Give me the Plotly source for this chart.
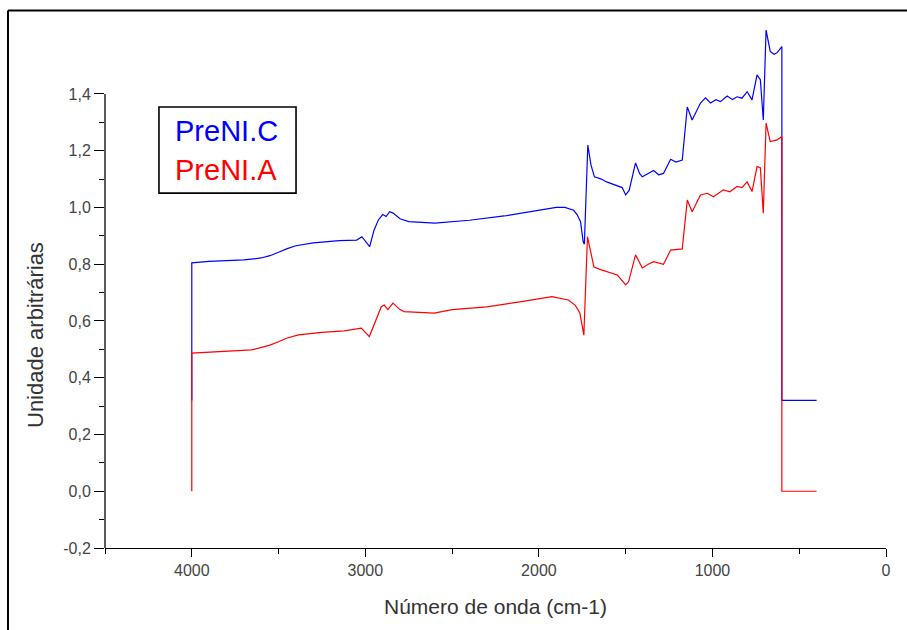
import plotly.graph_objects as go

# ---- data ----
wn_c = [4000, 4000, 3900, 3700, 3600, 3550, 3500, 3450, 3400, 3300, 3150, 3050, 3020, 2990, 2975,
        2950, 2925, 2900, 2880, 2860, 2840, 2800, 2750, 2600, 2400, 2200, 2000, 1900,
        1850, 1800, 1780, 1760, 1745, 1738, 1718, 1700, 1680, 1640, 1610, 1560, 1520,
        1500, 1480, 1443, 1420, 1404, 1370, 1339, 1310, 1282, 1241, 1210, 1174, 1145,
        1117, 1069, 1040, 1011, 980, 954, 915, 885, 858, 830, 800, 772, 743, 724, 707,
        691, 667, 645, 628, 600, 600, 400]
val_c = [0.32, 0.805, 0.81, 0.815, 0.822, 0.83, 0.842, 0.855, 0.865, 0.875, 0.883, 0.885, 0.897, 0.875, 0.862,
         0.92, 0.956, 0.975, 0.968, 0.985, 0.98, 0.96, 0.95, 0.945, 0.955, 0.97, 0.99, 1.0,
         1.0, 0.99, 0.975, 0.95, 0.88, 0.87, 1.22, 1.15, 1.108, 1.10, 1.09, 1.08, 1.07,
         1.044, 1.06, 1.157, 1.12, 1.108, 1.12, 1.13, 1.115, 1.12, 1.17, 1.16, 1.167, 1.354,
         1.308, 1.368, 1.386, 1.368, 1.38, 1.373, 1.393, 1.38, 1.39, 1.385, 1.408, 1.379, 1.467, 1.45, 1.308,
         1.625, 1.55, 1.54, 1.545, 1.567, 0.32, 0.32]

wn_a = [4000, 4000, 3655, 3598, 3550, 3500, 3450, 3385, 3250, 3121, 3023, 2977, 2908, 2891, 2870,
        2841, 2800, 2776, 2603, 2500, 2300, 2100, 1925, 1830, 1790, 1764, 1741, 1720,
        1683, 1640, 1605, 1548, 1500, 1483, 1443, 1404, 1370, 1339, 1282, 1241, 1174,
        1145, 1117, 1069, 1030, 994, 937, 900, 858, 830, 800, 772, 743, 724, 707, 691,
        667, 628, 600, 600, 400]
val_a = [0.0, 0.487, 0.498, 0.506, 0.515, 0.527, 0.54, 0.551, 0.56, 0.565, 0.575, 0.545, 0.65, 0.656, 0.64,
         0.663, 0.64, 0.633, 0.628, 0.64, 0.65, 0.668, 0.686, 0.674, 0.655, 0.628, 0.55, 0.897,
         0.79, 0.78, 0.774, 0.762, 0.727, 0.739, 0.833, 0.787, 0.80, 0.809, 0.80, 0.85, 0.854,
         1.026, 0.985, 1.044, 1.05, 1.038, 1.062, 1.055, 1.074, 1.07, 1.09, 1.056, 1.144, 1.14, 0.98, 1.297,
         1.232, 1.238, 1.25, 0.0, 0.0]

series_names = ["PreNI.C", "PreNI.A"]
series_colors = ["#0000ff", "#ff0000"]

y_ticks = [-0.2, 0.0, 0.2, 0.4, 0.6, 0.8, 1.0, 1.2, 1.4]
y_ticktext = ["-0,2", "0,0", "0,2", "0,4", "0,6", "0,8", "1,0", "1,2", "1,4"]
y_minor = [-0.1, 0.1, 0.3, 0.5, 0.7, 0.9, 1.1, 1.3]
x_ticks = [4000, 3000, 2000, 1000, 0]
x_minor = [4500, 3500, 2500, 1500, 500]

FONT = "Liberation Sans, Arial, sans-serif"

fig = go.Figure()
fig.add_trace(go.Scatter(x=wn_c, y=val_c, mode="lines", name=series_names[0],
                         line=dict(color=series_colors[0], width=1.2)))
fig.add_trace(go.Scatter(x=wn_a, y=val_a, mode="lines", name=series_names[1],
                         line=dict(color=series_colors[1], width=1.2)))

fig.update_layout(
    width=907, height=630,
    margin=dict(l=105, r=21, t=23, b=82),
    paper_bgcolor="white", plot_bgcolor="white",
    showlegend=False,
    font=dict(family=FONT, color="#444"),
    xaxis=dict(range=[4500, 0], showgrid=False, zeroline=False,
               showline=True, linecolor="black", linewidth=1.3,
               ticks="outside", ticklen=8, tickwidth=1.2, tickcolor="black",
               tickmode="array", tickvals=x_ticks,
               ticktext=[str(v) for v in x_ticks],
               tickfont=dict(size=16, color="#444", family=FONT),
               minor=dict(tickmode="array", tickvals=x_minor, ticks="outside",
                          ticklen=5, tickwidth=1.2, tickcolor="black")),
    yaxis=dict(range=[-0.2, 1.65], showgrid=False, zeroline=False, showline=False,
               ticks="outside", ticklen=10, tickwidth=1.2, tickcolor="black",
               tickmode="array", tickvals=y_ticks, ticktext=y_ticktext,
               tickfont=dict(size=16, color="#444", family=FONT),
               minor=dict(tickmode="array", tickvals=y_minor, ticks="outside",
                          ticklen=5, tickwidth=1.2, tickcolor="black")),
)

# y axis line only from -0.2 to 1.4
fig.add_shape(type="line", xref="paper", yref="y", x0=0, x1=0, y0=-0.2, y1=1.4,
              line=dict(color="black", width=1.3))

# outer frame (left and top edges)
fig.add_shape(type="line", xref="paper", yref="paper", x0=-0.1242, x1=-0.1242,
              y0=1.0238, y1=-0.3, line=dict(color="black", width=2))
fig.add_shape(type="line", xref="paper", yref="paper", x0=-0.1242, x1=1.2,
              y0=1.0238, y1=1.0238, line=dict(color="black", width=2))

# legend box
fig.add_shape(type="rect", xref="paper", yref="paper", x0=0.0691, x1=0.2446,
              y0=0.676, y1=0.84, line=dict(color="black", width=1.6), fillcolor="white",
              layer="above")
fig.add_annotation(xref="paper", yref="paper", x=0.0870, y=(548 - 131) / 525,
                   text=series_names[0], showarrow=False, xanchor="left", yanchor="middle",
                   font=dict(size=29, color=series_colors[0], family=FONT))
fig.add_annotation(xref="paper", yref="paper", x=0.0870, y=(548 - 170) / 525,
                   text=series_names[1], showarrow=False, xanchor="left", yanchor="middle",
                   font=dict(size=29, color=series_colors[1], family=FONT))

# axis titles
fig.add_annotation(xref="paper", yref="paper", x=0.5, y=(548 - 606) / 525,
                   text="Número de onda (cm-1)", showarrow=False,
                   xanchor="center", yanchor="middle",
                   font=dict(size=21, color="#333", family=FONT))
fig.add_annotation(xref="paper", yref="paper", x=(35 - 105) / 781, y=(548 - 335) / 525,
                   text="Unidade arbitrárias", showarrow=False, textangle=-90,
                   xanchor="center", yanchor="middle",
                   font=dict(size=22, color="#333", family=FONT))

fig.write_html("out.html")
